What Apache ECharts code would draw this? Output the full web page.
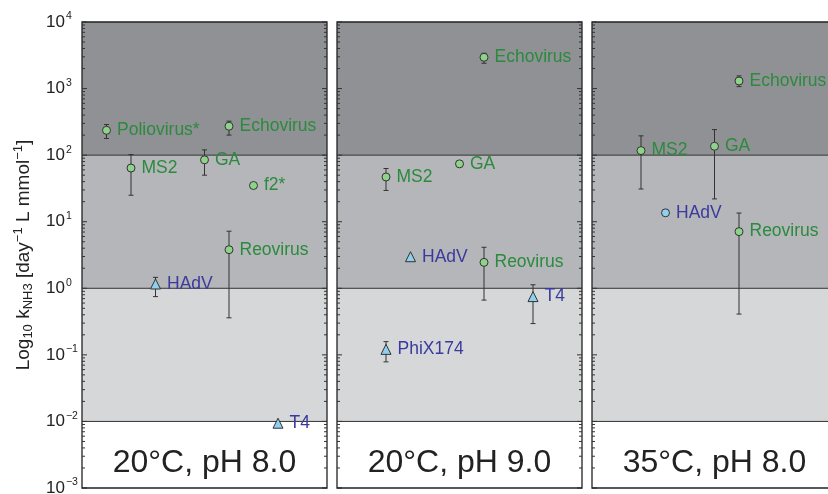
<!DOCTYPE html>
<html><head><meta charset="utf-8">
<script src="https://cdn.jsdelivr.net/npm/echarts@6/dist/echarts.min.js"></script>
<style>html,body{margin:0;padding:0;background:#fff}#c{width:828px;height:494px}</style>
</head><body><div id="c"></div>
<script>
// ---------- data ----------
const panelTitles = ['20°C, pH 8.0', '20°C, pH 9.0', '35°C, pH 8.0'];
const yTickValues = [0.001, 0.01, 0.1, 1, 10, 100, 1000, 10000];
const bandLimits = [0.001, 0.01, 1, 100, 10000];

// panel 1: 20°C, pH 8.0
const p1Names = ['Poliovirus*', 'Echovirus', 'MS2', 'GA', 'f2*', 'Reovirus', 'HAdV', 'T4'];
const p1X     = [0.1, 0.6, 0.2, 0.5, 0.7, 0.6, 0.3, 0.8];
const p1Val   = [236, 272, 64, 85, 35, 3.8, 1.16, 0.0094];
const p1Lo    = [178, 200, 25, 50, null, 0.36, 0.75, null];
const p1Hi    = [288, 324, 102, 120, null, 7.2, 1.46, null];
const p1Kind  = ['g', 'g', 'g', 'g', 'g', 'g', 'bt', 'bt'];

// panel 2: 20°C, pH 9.0
const p2Names = ['Echovirus', 'GA', 'MS2', 'HAdV', 'Reovirus', 'T4', 'PhiX174'];
const p2X     = [0.6, 0.5, 0.2, 0.3, 0.6, 0.8, 0.2];
const p2Val   = [2950, 74, 47, 2.98, 2.45, 0.75, 0.121];
const p2Lo    = [2400, null, 29.5, null, 0.665, 0.295, 0.0785];
const p2Hi    = [3390, null, 63, null, 4.13, 1.13, 0.158];
const p2Kind  = ['g', 'g', 'g', 'bt', 'g', 'bt', 'bt'];

// panel 3: 35°C, pH 8.0
const p3Names = ['Echovirus', 'MS2', 'GA', 'HAdV', 'Reovirus'];
const p3X     = [0.6, 0.2, 0.5, 0.3, 0.6];
const p3Val   = [1300, 117, 136, 13.6, 7.1];
const p3Lo    = [1070, 31, 22, null, 0.41];
const p3Hi    = [1550, 195, 242, null, 13.5];
const p3Kind  = ['g', 'g', 'g', 'bc', 'g'];

// ---------- styles ----------
const FONT = '"Liberation Sans", Arial, Helvetica, sans-serif';
const bandColors = ['#ffffff', '#d6d7d9', '#b5b6b9', '#909194'];
const greenText = '#2b8a3e', blueText = '#3a3a9e';
const greenFill = '#8fd38a', blueFill = '#90d0ee';
const lineCol = '#333333';

const panels = [
  {names: p1Names, x: p1X, val: p1Val, lo: p1Lo, hi: p1Hi, kind: p1Kind},
  {names: p2Names, x: p2X, val: p2Val, lo: p2Lo, hi: p2Hi, kind: p2Kind},
  {names: p3Names, x: p3X, val: p3Val, lo: p3Lo, hi: p3Hi, kind: p3Kind}
];
const gridLefts = [82, 337, 592];
const gridW = 245, gridTop = 22, gridH = 466;

// minor tick values (2..9 x 10^k) for log axis decoration
const minorTicks = [];
for (let e = -3; e < 4; e++) for (let m = 2; m < 10; m++) minorTicks.push(m * Math.pow(10, e));

const grids = [], xAxes = [], yAxes = [], series = [], graphics = [];

function supNum(e) { return (e < 0 ? '\u2212' : '') + Math.abs(e); }

panels.forEach((p, i) => {
  grids.push({left: gridLefts[i], top: gridTop, width: gridW, height: gridH,
    outerBoundsMode: 'none', containLabel: false, show: false});
  xAxes.push({type: 'value', gridIndex: i, min: 0, max: 1, show: false});
  yAxes.push({
    type: 'log', gridIndex: i, logBase: 10, min: 0.001, max: 10000, interval: 1,
    axisLine: {show: false}, axisTick: {show: false}, splitLine: {show: false},
    axisLabel: i === 0 ? {
      show: true, margin: 36, align: 'left',
      formatter: v => '{b|10}{s|' + supNum(Math.round(Math.log10(v))) + '}',
      rich: {
        b: {fontFamily: FONT, fontSize: 17, color: '#222'},
        s: {fontFamily: FONT, fontSize: 10.5, color: '#222', padding: [0, 0, 11, 1]}
      }
    } : {show: false},
    name: i === 0 ? '{t|Log}{sb|10}{t| k}{sb|NH3}{t| [day}{sp|\u22121}{t| L mmol}{sp|\u22121}{t|]}' : '',
    nameLocation: 'middle', nameGap: 47, nameRotate: 90,
    nameTextStyle: {
      rich: {
        t: {fontFamily: FONT, fontSize: 19, color: '#222'},
        sb: {fontFamily: FONT, fontSize: 13, color: '#222', padding: [10, 0, 0, 0]},
        sp: {fontFamily: FONT, fontSize: 13, color: '#222', padding: [0, 0, 10, 0]}
      }
    }
  });

  // background bands + boundary lines (drawn through the axis scales)
  const bandData = [];
  for (let k = 0; k < bandLimits.length - 1; k++) bandData.push([bandLimits[k], bandLimits[k + 1], k]);
  series.push({
    type: 'custom', xAxisIndex: i, yAxisIndex: i, z: 1, silent: true, clip: false,
    data: bandData,
    renderItem: (params, api) => {
      const x0 = api.coord([0, 1])[0], x1 = api.coord([1, 1])[0];
      const yLo = api.coord([0, api.value(0)])[1], yHi = api.coord([0, api.value(1)])[1];
      const k = api.value(2);
      const children = [{type: 'rect', shape: {x: x0, y: yHi, width: x1 - x0, height: yLo - yHi},
        style: {fill: bandColors[k]}}];
      if (k > 0) children.push({type: 'line', shape: {x1: x0, y1: yLo, x2: x1, y2: yLo},
        style: {stroke: lineCol, lineWidth: 1}, z2: 5});
      return {type: 'group', children: children};
    },
    encode: {y: [0, 1]}
  });

  // panel frame + ticks (major + minor) on both inner sides
  const tickData = yTickValues.map(v => [v, 1]).concat(minorTicks.map(v => [v, 0]));
  series.push({
    type: 'custom', xAxisIndex: i, yAxisIndex: i, z: 5, silent: true, clip: false,
    data: tickData,
    renderItem: (params, api) => {
      const x0 = api.coord([0, 1])[0], x1 = api.coord([1, 1])[0];
      const yTop = api.coord([0, 10000])[1], yBot = api.coord([0, 0.001])[1];
      const y = api.coord([0, api.value(0)])[1];
      const len = api.value(1) ? 5 : 3;
      const st = {stroke: '#333', lineWidth: 1};
      const children = [
        {type: 'line', shape: {x1: x0, y1: y, x2: x0 + len, y2: y}, style: st},
        {type: 'line', shape: {x1: x1, y1: y, x2: x1 - len, y2: y}, style: st}
      ];
      if (params.dataIndex === 0) {
        children.push({type: 'rect', shape: {x: x0, y: yTop, width: x1 - x0, height: yBot - yTop},
          style: {fill: null, stroke: '#222', lineWidth: 1.3}});
      }
      return {type: 'group', children: children};
    },
    encode: {y: 0}
  });

  // error bars
  const errData = [];
  p.x.forEach((xv, j) => { if (p.lo[j] != null) errData.push([xv, p.lo[j], p.hi[j]]); });
  series.push({
    type: 'custom', xAxisIndex: i, yAxisIndex: i, z: 6, silent: true, clip: false,
    data: errData,
    renderItem: (params, api) => {
      const a = api.coord([api.value(0), api.value(1)]);
      const b = api.coord([api.value(0), api.value(2)]);
      const st = {stroke: '#333', lineWidth: 1};
      const c = 2.5;
      return {type: 'group', children: [
        {type: 'line', shape: {x1: a[0], y1: a[1], x2: b[0], y2: b[1]}, style: st},
        {type: 'line', shape: {x1: a[0] - c, y1: a[1], x2: a[0] + c, y2: a[1]}, style: st},
        {type: 'line', shape: {x1: b[0] - c, y1: b[1], x2: b[0] + c, y2: b[1]}, style: st}
      ]};
    },
    encode: {x: 0, y: [1, 2]}
  });

  // points
  const kinds = {
    g: {symbol: 'circle', size: 8, fill: greenFill, text: greenText},
    bt: {symbol: 'triangle', size: 10, fill: blueFill, text: blueText},
    bc: {symbol: 'circle', size: 8, fill: blueFill, text: blueText}
  };
  Object.keys(kinds).forEach(k => {
    const kd = kinds[k];
    const data = [];
    p.x.forEach((xv, j) => { if (p.kind[j] === k) data.push({name: p.names[j], value: [xv, p.val[j]]}); });
    if (!data.length) return;
    series.push({
      type: 'scatter', xAxisIndex: i, yAxisIndex: i, z: 7, clip: false,
      symbol: kd.symbol, symbolSize: kd.size,
      itemStyle: {color: kd.fill, borderColor: '#333', borderWidth: 1, opacity: 1},
      label: {show: true, position: 'right', distance: 6, formatter: '{b}',
        fontFamily: FONT, fontSize: 17.5, color: kd.text},
      labelLayout: {hideOverlap: false},
      data: data
    });
  });

  graphics.push({type: 'text', x: gridLefts[i] + gridW / 2, y: 463,
    style: {text: panelTitles[i], fontFamily: FONT, fontSize: 32, fill: '#222',
      textAlign: 'center', textVerticalAlign: 'middle', verticalAlign: 'middle'}, z: 20});
});

const chart = echarts.init(document.getElementById('c'), null, {renderer: 'canvas'});
chart.setOption({
  animation: false,
  grid: grids, xAxis: xAxes, yAxis: yAxes, series: series,
  graphic: graphics
});
</script></body></html>
